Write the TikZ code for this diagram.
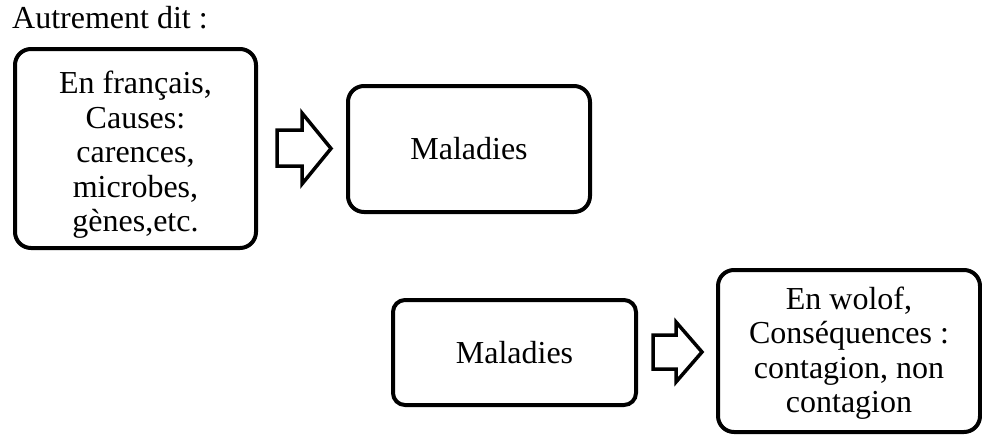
\documentclass[tikz,border=0pt]{standalone}
\usepackage{fontspec}
\setmainfont{Liberation Serif}
\begin{document}
\begin{tikzpicture}[x=1pt,y=-1pt,
  box/.style={draw, line width=4pt, rounded corners=16pt, align=center, inner sep=0pt,
    font=\fontsize{32pt}{34.5pt}\selectfont},
  blockarrow/.style={draw, line width=3.5pt, line join=miter},
  label/.style={font=\fontsize{32pt}{34.5pt}\selectfont, inner sep=0pt, align=center}]
\useasboundingbox (0,0) rectangle (982,434);
\node[label, anchor=base west] (title) at (12,28) {Autrement dit :};
\node[box, minimum width=241pt, minimum height=199pt] (fr) at (135.5,148.5) {};
\node[label] (frtext) at (135.5,155) {En français,\\Causes:\\carences,\\microbes,\\gènes,etc.};
\node[box, minimum width=242pt, minimum height=126pt] (mal1) at (469,149) {Maladies};
\node[box, rounded corners=12pt, minimum width=243pt, minimum height=105pt] (mal2) at (514.5,352.5) {Maladies};
\node[box, minimum width=262pt, minimum height=162pt] (wo) at (849,351) {};
\node[label] (wotext) at (849,353) {En wolof,\\Conséquences :\\contagion, non\\contagion};
\draw[blockarrow] (277,130) -- (302,130) -- (302,113) -- (331,148.5) -- (302,184)
  -- (302,166) -- (277,166) -- cycle;
\draw[blockarrow] (653,335) -- (676,335) -- (676,322) -- (702,352) -- (676,382)
  -- (676,369) -- (653,369) -- cycle;
\end{tikzpicture}
\end{document}
